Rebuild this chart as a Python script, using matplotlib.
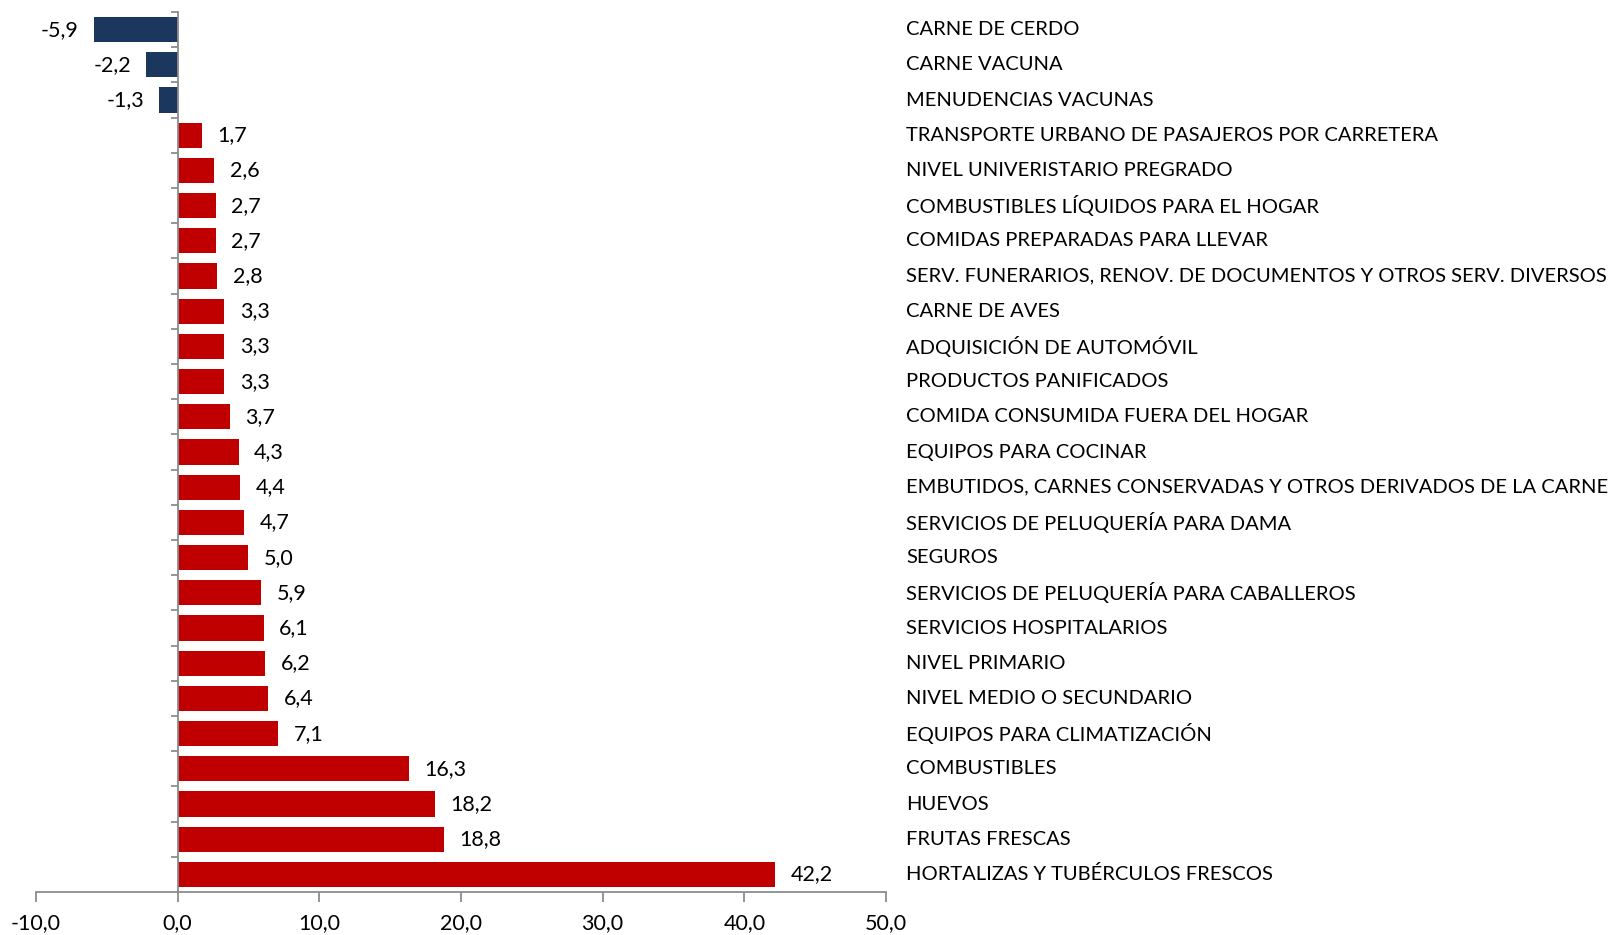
import matplotlib.pyplot as plt
from matplotlib.transforms import blended_transform_factory

categories = [
    "CARNE DE CERDO",
    "CARNE VACUNA",
    "MENUDENCIAS VACUNAS",
    "TRANSPORTE URBANO DE PASAJEROS POR CARRETERA",
    "NIVEL UNIVERISTARIO PREGRADO",
    "COMBUSTIBLES LÍQUIDOS PARA EL HOGAR",
    "COMIDAS PREPARADAS PARA LLEVAR",
    "SERV. FUNERARIOS, RENOV. DE DOCUMENTOS Y OTROS SERV. DIVERSOS",
    "CARNE DE AVES",
    "ADQUISICIÓN DE AUTOMÓVIL",
    "PRODUCTOS PANIFICADOS",
    "COMIDA CONSUMIDA FUERA DEL HOGAR",
    "EQUIPOS PARA COCINAR",
    "EMBUTIDOS, CARNES CONSERVADAS Y OTROS DERIVADOS DE LA CARNE",
    "SERVICIOS DE PELUQUERÍA PARA DAMA",
    "SEGUROS",
    "SERVICIOS DE PELUQUERÍA PARA CABALLEROS",
    "SERVICIOS HOSPITALARIOS",
    "NIVEL PRIMARIO",
    "NIVEL MEDIO O SECUNDARIO",
    "EQUIPOS PARA CLIMATIZACIÓN",
    "COMBUSTIBLES",
    "HUEVOS",
    "FRUTAS FRESCAS",
    "HORTALIZAS Y TUBÉRCULOS FRESCOS",
]
values = [-5.9, -2.2, -1.3, 1.7, 2.6, 2.7, 2.7, 2.8, 3.3, 3.3, 3.3, 3.7, 4.3,
          4.4, 4.7, 5.0, 5.9, 6.1, 6.2, 6.4, 7.1, 16.3, 18.2, 18.8, 42.2]
x_ticks = [-10, 0, 10, 20, 30, 40, 50]

NEG = "#1B375E"
POS = "#C00000"
GREY = "#8C8C8C"

plt.rcParams["font.family"] = ["Lato", "DejaVu Sans"]

fig = plt.figure(figsize=(16.15, 9.35), dpi=100)
ax = fig.add_axes([36 / 1615, 1 - 892 / 935, 850 / 1615, 880 / 935])

n = len(categories)
ypos = list(range(n))
colors = [NEG if v < 0 else POS for v in values]
ax.barh(ypos, values, height=0.72, color=colors, zorder=2)

ax.set_xlim(-10, 50)
ax.set_ylim(n - 0.5, -0.5)

for y, v in zip(ypos, values):
    label = f"{v:.1f}".replace(".", ",")
    if v < 0:
        ax.annotate(label, (v, y), xytext=(-11, 0), textcoords="offset points",
                    ha="right", va="center", fontsize=15.5)
    else:
        ax.annotate(label, (v, y), xytext=(11, 0), textcoords="offset points",
                    ha="left", va="center", fontsize=15.5)

# category names sit to the right of the plotting area
trans = blended_transform_factory(ax.transAxes, ax.transData)
for y, name in zip(ypos, categories):
    ax.text(1.0 + 20 / 850, y, name, transform=trans, ha="left", va="center",
            fontsize=14.5)

for side in ("top", "right"):
    ax.spines[side].set_visible(False)
ax.spines["left"].set_position(("data", 0))
for side in ("left", "bottom"):
    ax.spines[side].set_color(GREY)
    ax.spines[side].set_linewidth(1.3)

ax.set_yticks([i - 0.5 for i in range(n)])
ax.set_yticklabels([])
ax.tick_params(axis="y", length=5, width=1.3, color=GREY, direction="out")

ax.set_xticks(x_ticks)
ax.set_xticklabels([f"{t:.1f}".replace(".", ",") for t in x_ticks], fontsize=15.5)
ax.tick_params(axis="x", length=7, width=1.3, color=GREY, direction="out", pad=8)

fig.savefig("out.png", dpi=100)
